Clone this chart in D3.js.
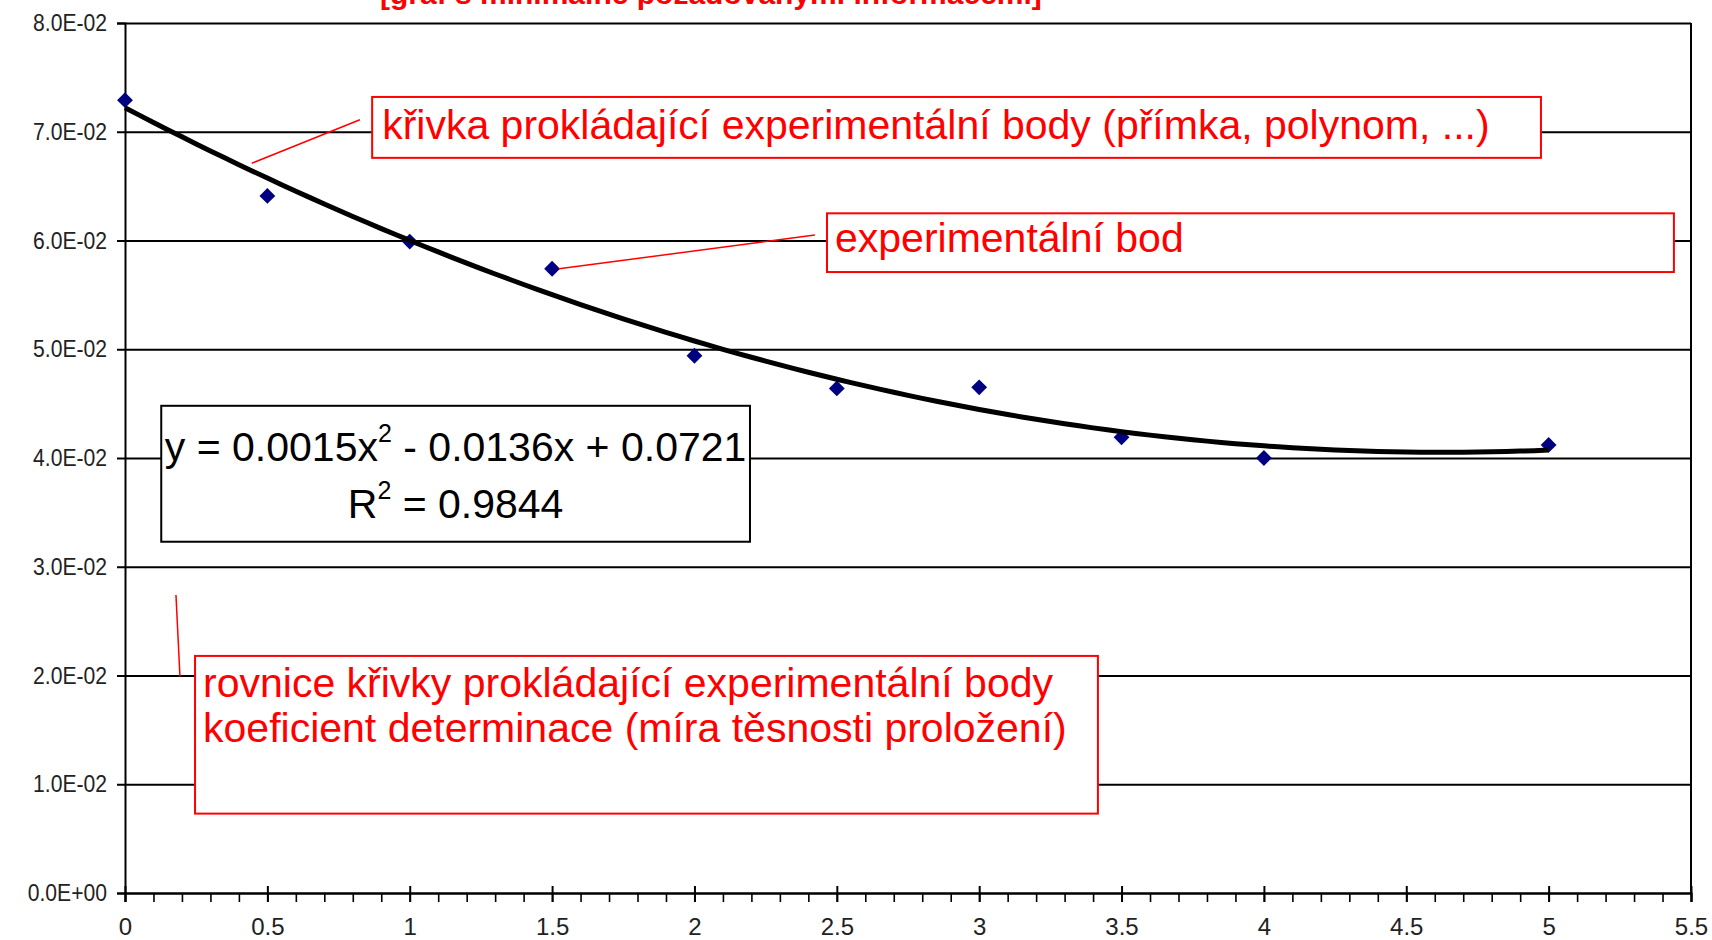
<!DOCTYPE html>
<html>
<head>
<meta charset="utf-8">
<script src="https://cdn.jsdelivr.net/npm/d3@7"></script>
<style>
  body { margin: 0; background: #fff; }
  text { font-family: "Liberation Sans", Arial, sans-serif; white-space: pre; }
</style>
</head>
<body>
<script>
// values
var xValues = [0, 0.5, 1, 1.5, 2, 2.5, 3, 3.5, 4, 5];
var yValues = [0.0729, 0.0641, 0.0599, 0.0574, 0.0494, 0.0464, 0.0465, 0.0419, 0.0400, 0.0412];

var xTicks = [0, 0.5, 1, 1.5, 2, 2.5, 3, 3.5, 4, 4.5, 5, 5.5];
var xTickLabels = ["0", "0.5", "1", "1.5", "2", "2.5", "3", "3.5", "4", "4.5", "5", "5.5"];
var yTicks = [0, 0.01, 0.02, 0.03, 0.04, 0.05, 0.06, 0.07, 0.08];

var titleText = "[graf s minimálně požadovanými informacemi]";
var curveNote = ["křivka prokládající experimentální body (přímka, polynom, ...)"];
var pointNote = ["experimentální bod"];
var equationNote = ["rovnice křivky prokládající experimentální body",
                    "koeficient determinace (míra těsnosti proložení)"];
var equationText = [[["y = 0.0015x", false], ["2", true], [" - 0.0136x + 0.0721", false]],
                    [["R", false], ["2", true], [" = 0.9844", false]]];

var W = 1712, H = 940;
var margin = {top: 23, right: 21, bottom: 47, left: 125},
    width = W - margin.left - margin.right,
    height = H - margin.top - margin.bottom;

var svg = d3.select("body").append("svg")
    .attr("width", W)
    .attr("height", H)
    .style("background", "#fff");

// cut-off title at the very top
svg.append("text")
    .attr("x", 380)
    .attr("y", 4)
    .attr("fill", "#ff0000")
    .style("font-size", "30px")
    .style("font-weight", "bold")
    .text(titleText);

var g = svg.append("g")
    .attr("transform", "translate(" + margin.left + "," + margin.top + ")");

var x = d3.scaleLinear().domain([0, 5.5]).range([0, width]);
var y = d3.scaleLinear().domain([0, 0.08]).range([height, 0]);

function sciFormat(v) {
    var s = d3.format(".1e")(v).split("e");
    var sign = s[1][0] === "-" ? "-" : "+";
    var digits = s[1].replace(/[+-]/, "");
    while (digits.length < 2) digits = "0" + digits;
    return s[0] + "E" + sign + digits;
}

// horizontal grid
g.append("g")
    .call(d3.axisLeft(y).tickValues(yTicks).tickSize(-width).tickFormat(""))
    .call(function(a) { a.select(".domain").remove(); })
    .selectAll("line").attr("stroke", "#000").attr("stroke-width", 2);

// right border
g.append("line")
    .attr("x1", x(5.5)).attr("x2", x(5.5))
    .attr("y1", y(0)).attr("y2", y(0.08))
    .attr("stroke", "#000").attr("stroke-width", 2);

// y axis (labels slightly condensed like the original)
var squeeze = 0.88;
var yAxis = g.append("g")
    .call(d3.axisLeft(y).tickValues(yTicks).tickSize(8).tickPadding(10).tickFormat(sciFormat));
yAxis.select(".domain").attr("stroke", "#000").attr("stroke-width", 2);
yAxis.selectAll(".tick line").attr("stroke", "#000").attr("stroke-width", 2);
yAxis.selectAll("text")
    .attr("x", -18 / squeeze)
    .attr("transform", "scale(" + squeeze + ",1)")
    .attr("fill", "#222")
    .style("font-size", "24px")
    .style("font-family", "'Liberation Sans', Arial, sans-serif");

// x axis: minor ticks below, major ticks crossing the axis
var minorTicks = d3.range(0, 5.55, 0.1);
g.append("g")
    .attr("transform", "translate(0," + height + ")")
    .call(d3.axisBottom(x).tickValues(minorTicks).tickSize(9).tickFormat(""))
    .call(function(a) { a.select(".domain").attr("stroke", "#000").attr("stroke-width", 2); })
    .selectAll("line").attr("stroke", "#000").attr("stroke-width", 1.6);

var xAxis = g.append("g")
    .attr("transform", "translate(0," + height + ")")
    .call(d3.axisBottom(x).tickValues(xTicks).tickSize(9)
        .tickFormat(function(d, i) { return xTickLabels[i]; }));
xAxis.select(".domain").remove();
xAxis.selectAll(".tick line")
    .attr("y1", -7).attr("y2", 9)
    .attr("stroke", "#000").attr("stroke-width", 2);
xAxis.selectAll("text")
    .attr("y", 42).attr("dy", 0)
    .attr("fill", "#222")
    .style("font-size", "24px")
    .style("font-family", "'Liberation Sans', Arial, sans-serif");

// points
g.selectAll(".pt")
    .data(xValues)
    .enter()
    .append("path")
        .attr("class", "pt")
        .attr("d", d3.symbol(d3.symbolSquare, 125))
        .attr("transform", function(d, i) {
            return "translate(" + x(d) + "," + y(yValues[i]) + ") rotate(45)";
        })
        .attr("fill", "#000080");

// second order polynomial trendline (least squares, like the spreadsheet does)
function quadFit(xs, ys) {
    var S = [0, 0, 0, 0, 0], T = [0, 0, 0];
    xs.forEach(function(xv, i) {
        for (var k = 0; k < 5; k++) S[k] += Math.pow(xv, k);
        for (var k2 = 0; k2 < 3; k2++) T[k2] += Math.pow(xv, k2) * ys[i];
    });
    var M = [[S[0], S[1], S[2], T[0]],
             [S[1], S[2], S[3], T[1]],
             [S[2], S[3], S[4], T[2]]];
    for (var c = 0; c < 3; c++) {
        for (var r = c + 1; r < 3; r++) {
            var f = M[r][c] / M[c][c];
            for (var j = c; j < 4; j++) M[r][j] -= f * M[c][j];
        }
    }
    var sol = [0, 0, 0];
    for (var r2 = 2; r2 >= 0; r2--) {
        var s = M[r2][3];
        for (var j2 = r2 + 1; j2 < 3; j2++) s -= M[r2][j2] * sol[j2];
        sol[r2] = s / M[r2][r2];
    }
    return sol; // c0, c1, c2
}
var coef = quadFit(xValues, yValues);
var curveX = d3.range(0, 5.001, 0.05);

g.append("path")
    .datum(curveX)
    .attr("fill", "none")
    .attr("stroke", "#000")
    .attr("stroke-width", 5)
    .attr("d", d3.line()
        .x(function(d) { return x(d); })
        .y(function(d) { return y(coef[0] + coef[1] * d + coef[2] * d * d); }));

// annotations, positioned in data units
var leaders = [
    {x1: 0.445, y1: 0.0671, x2: 0.825, y2: 0.0711},
    {x1: 1.524, y1: 0.0574, x2: 2.423, y2: 0.0605},
    {x1: 0.179, y1: 0.0274, x2: 0.193, y2: 0.0199}
];
g.selectAll(".leader")
    .data(leaders)
    .enter()
    .append("line")
        .attr("class", "leader")
        .attr("x1", function(d) { return x(d.x1); })
        .attr("y1", function(d) { return y(d.y1); })
        .attr("x2", function(d) { return x(d.x2); })
        .attr("y2", function(d) { return y(d.y2); })
        .attr("stroke", "#ff0000")
        .attr("stroke-width", 1.5);

var boxes = [
    {x0: 0.868, x1: 4.973, y0: 0.0732, y1: 0.0676, color: "#ff0000", lines: curveNote, pad: 10, base: 42, lh: 44},
    {x0: 2.4655, x1: 5.440, y0: 0.0625, y1: 0.0571, color: "#ff0000", lines: pointNote, pad: 8, base: 39, lh: 44},
    {x0: 0.246, x1: 3.417, y0: 0.0218, y1: 0.0073, color: "#ff0000", lines: equationNote, pad: 8, base: 41, lh: 45}
];

boxes.forEach(function(b) {
    var bx = x(b.x0), by = y(b.y0);
    g.append("rect")
        .attr("x", bx).attr("y", by)
        .attr("width", x(b.x1) - bx)
        .attr("height", y(b.y1) - by)
        .attr("fill", "#fff")
        .attr("stroke", b.color)
        .attr("stroke-width", 2);
    b.lines.forEach(function(line, i) {
        g.append("text")
            .attr("x", bx + b.pad)
            .attr("y", by + b.base + i * b.lh)
            .attr("fill", b.color)
            .style("font-size", "41px")
            .text(line);
    });
});

// equation label of the trendline
var eq = {x0: 0.1273, x1: 2.195, y0: 0.0448, y1: 0.0323};
g.append("rect")
    .attr("x", x(eq.x0)).attr("y", y(eq.y0))
    .attr("width", x(eq.x1) - x(eq.x0))
    .attr("height", y(eq.y1) - y(eq.y0))
    .attr("fill", "#fff")
    .attr("stroke", "#000")
    .attr("stroke-width", 2);

equationText.forEach(function(parts, i) {
    var t = g.append("text")
        .attr("x", (x(eq.x0) + x(eq.x1)) / 2)
        .attr("y", y(eq.y0) + 55 + i * 57)
        .attr("text-anchor", "middle")
        .attr("fill", "#000")
        .style("font-size", "41px");
    parts.forEach(function(p, k) {
        var prevSup = k > 0 && parts[k - 1][1];
        t.append("tspan")
            .attr("dy", p[1] ? -19 : (prevSup ? 19 : 0))
            .style("font-size", p[1] ? "25px" : "41px")
            .text(p[0]);
    });
});
</script>
</body>
</html>
